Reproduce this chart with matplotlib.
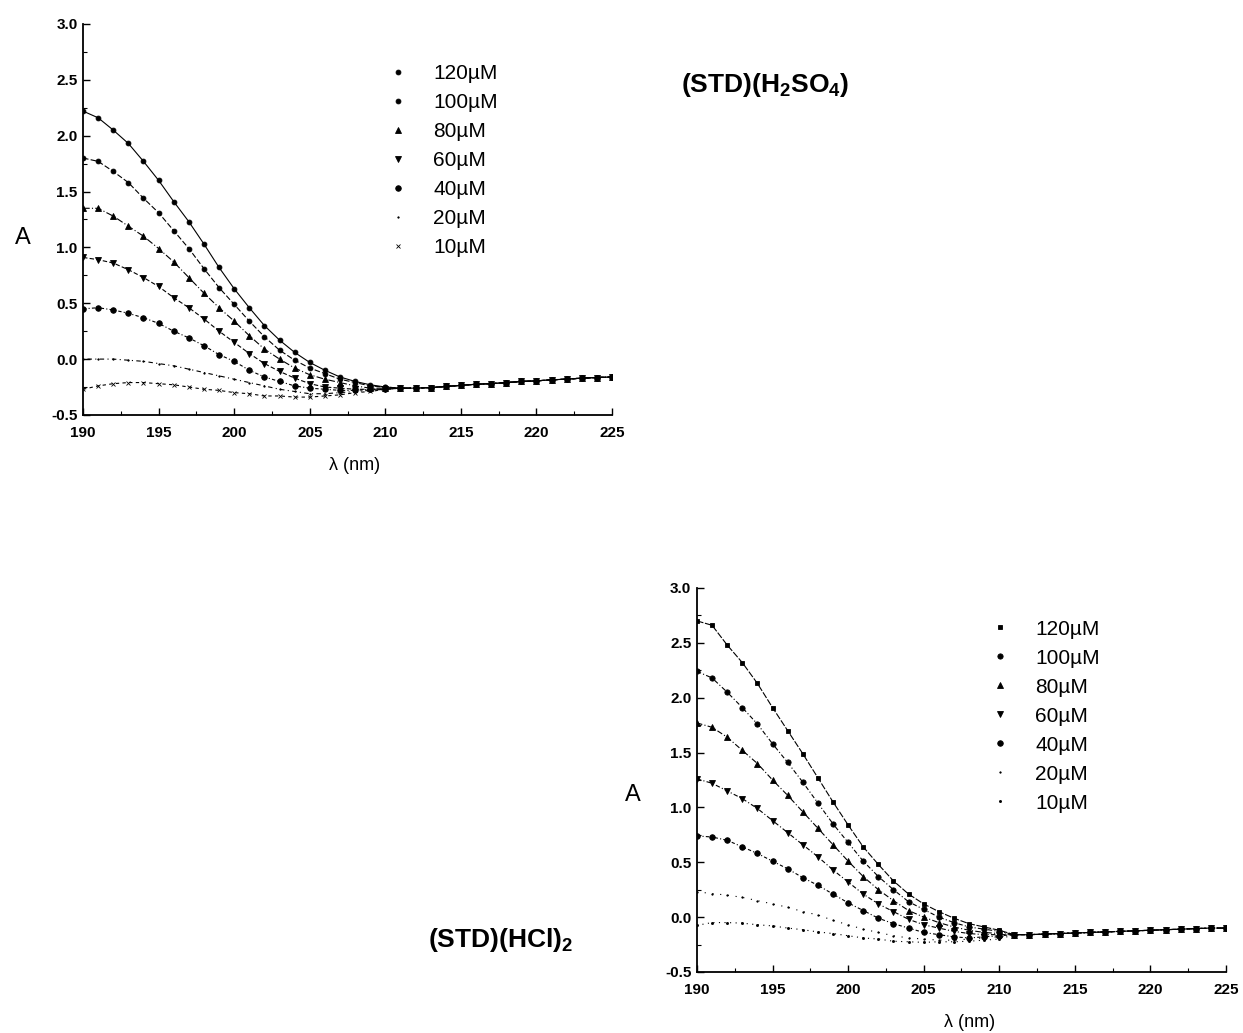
import numpy as np
import matplotlib
matplotlib.use("Agg")
import matplotlib.pyplot as plt

plt.rcParams['font.family'] = ['Liberation Sans', 'DejaVu Sans']
plt.rcParams['mathtext.fontset'] = 'custom'
plt.rcParams['mathtext.rm'] = 'Liberation Sans'
plt.rcParams['mathtext.bf'] = 'Liberation Sans:bold'

# wavelength grid, 1 nm steps
wl = np.arange(190, 226)
labels = ["120µM", "100µM", "80µM", "60µM", "40µM", "20µM", "10µM"]

# (STD)(H2SO4): 190-210 nm, then the shared tail 211-225 nm
h2so4_120 = [2.22, 2.16, 2.05, 1.93, 1.77, 1.60, 1.41, 1.23, 1.03, 0.82, 0.63, 0.46, 0.30, 0.17, 0.06, -0.03, -0.10, -0.16, -0.20, -0.23, -0.25]
h2so4_100 = [1.80, 1.77, 1.68, 1.58, 1.44, 1.31, 1.15, 0.99, 0.81, 0.64, 0.49, 0.34, 0.20, 0.08, -0.01, -0.08, -0.13, -0.18, -0.21, -0.24, -0.25]
h2so4_80 = [1.35, 1.35, 1.28, 1.19, 1.10, 0.99, 0.87, 0.73, 0.59, 0.46, 0.34, 0.21, 0.09, 0.00, -0.08, -0.14, -0.18, -0.21, -0.24, -0.26, -0.26]
h2so4_60 = [0.91, 0.89, 0.86, 0.80, 0.73, 0.65, 0.55, 0.46, 0.36, 0.25, 0.15, 0.05, -0.04, -0.11, -0.17, -0.22, -0.25, -0.26, -0.27, -0.27, -0.27]
h2so4_40 = [0.45, 0.46, 0.44, 0.41, 0.37, 0.32, 0.25, 0.19, 0.12, 0.04, -0.02, -0.10, -0.16, -0.20, -0.24, -0.26, -0.27, -0.28, -0.28, -0.27, -0.27]
h2so4_20 = [0.00, 0.00, 0.00, -0.01, -0.02, -0.04, -0.06, -0.09, -0.12, -0.15, -0.18, -0.21, -0.24, -0.27, -0.29, -0.31, -0.31, -0.30, -0.29, -0.28, -0.27]
h2so4_10 = [-0.27, -0.24, -0.22, -0.21, -0.21, -0.22, -0.23, -0.25, -0.27, -0.28, -0.30, -0.31, -0.33, -0.33, -0.34, -0.34, -0.33, -0.32, -0.30, -0.29, -0.27]
h2so4_tail = [-0.26, -0.26, -0.255, -0.245, -0.235, -0.225, -0.22, -0.21, -0.20, -0.195, -0.185, -0.18, -0.17, -0.165, -0.16]

# (STD)(HCl)2
hcl_120 = [2.70, 2.66, 2.48, 2.32, 2.13, 1.91, 1.70, 1.49, 1.27, 1.05, 0.84, 0.64, 0.48, 0.33, 0.21, 0.12, 0.05, -0.01, -0.06, -0.09, -0.12]
hcl_100 = [2.24, 2.18, 2.05, 1.91, 1.76, 1.58, 1.41, 1.23, 1.04, 0.85, 0.68, 0.51, 0.37, 0.25, 0.14, 0.07, 0.00, -0.05, -0.09, -0.11, -0.13]
hcl_80 = [1.77, 1.73, 1.64, 1.52, 1.40, 1.25, 1.11, 0.96, 0.81, 0.66, 0.51, 0.37, 0.25, 0.15, 0.06, 0.00, -0.05, -0.09, -0.12, -0.14, -0.15]
hcl_60 = [1.26, 1.22, 1.15, 1.08, 0.99, 0.88, 0.77, 0.66, 0.55, 0.43, 0.32, 0.21, 0.12, 0.05, -0.02, -0.07, -0.10, -0.13, -0.15, -0.16, -0.16]
hcl_40 = [0.74, 0.73, 0.70, 0.64, 0.58, 0.51, 0.44, 0.36, 0.29, 0.21, 0.13, 0.06, -0.01, -0.06, -0.10, -0.14, -0.16, -0.18, -0.19, -0.18, -0.17]
hcl_20 = [0.23, 0.215, 0.20, 0.18, 0.15, 0.12, 0.09, 0.05, 0.02, -0.03, -0.07, -0.11, -0.14, -0.17, -0.19, -0.20, -0.21, -0.21, -0.20, -0.19, -0.18]
hcl_10 = [-0.075, -0.05, -0.05, -0.055, -0.07, -0.08, -0.10, -0.115, -0.135, -0.15, -0.17, -0.19, -0.20, -0.22, -0.225, -0.23, -0.225, -0.225, -0.22, -0.21, -0.20]
hcl_tail = [-0.16, -0.16, -0.155, -0.15, -0.145, -0.14, -0.135, -0.13, -0.125, -0.12, -0.115, -0.11, -0.105, -0.10, -0.10]

top_series = [h2so4_120, h2so4_100, h2so4_80, h2so4_60, h2so4_40, h2so4_20, h2so4_10]
bot_series = [hcl_120, hcl_100, hcl_80, hcl_60, hcl_40, hcl_20, hcl_10]

top_styles = [
    ('o', 3.5, '-'),
    ('o', 3.5, (0, (5, 2))),
    ('^', 4.0, (0, (6, 2, 1, 2))),
    ('v', 4.0, (0, (4, 2))),
    ('o', 4.0, (0, (3, 2, 1, 2))),
    ('.', 2.0, (0, (1, 3, 4, 3))),
    ('x', 2.5, (0, (3, 3))),
]
bot_styles = [
    ('s', 3.5, (0, (6, 1.5))),
    ('o', 3.8, (0, (4, 2, 1, 2))),
    ('^', 4.0, (0, (5, 2, 1, 2))),
    ('v', 4.0, (0, (4, 2, 1, 2))),
    ('o', 4.0, (0, (3, 2, 1, 2))),
    ('.', 2.0, (0, (1, 6))),
    ('.', 3.0, (0, (1, 4))),
]

fig = plt.figure(figsize=(12.43, 10.33), dpi=100)
ax1 = fig.add_axes([0.0668, 0.5983, 0.4256, 0.3785])
ax2 = fig.add_axes([0.5607, 0.0591, 0.4256, 0.3717])


def draw(ax, series, tail, styles, leg_anchor):
    for vals, lab, (mk, ms, ls) in zip(series, labels, styles):
        ax.plot(wl, list(vals) + list(tail), color='black', lw=0.8, ls=ls,
                marker=mk, ms=ms, mec='black', mfc='black', mew=0.6, label=lab)
    ax.set_xlim(190, 225)
    ax.set_ylim(-0.5, 3.0)
    ax.set_xticks(range(190, 226, 5))
    ax.set_yticks(np.arange(-0.5, 3.01, 0.5))
    ax.set_yticklabels(["-0.5", "0.0", "0.5", "1.0", "1.5", "2.0", "2.5", "3.0"])
    ax.set_xticks(np.arange(190, 226, 2.5), minor=True)
    ax.set_yticks(np.arange(-0.5, 3.01, 0.25), minor=True)
    ax.tick_params(which='major', direction='in', length=5, width=1.0, labelsize=11)
    ax.tick_params(axis='x', which='major', pad=8)
    ax.tick_params(axis='y', which='major', pad=4)
    ax.tick_params(which='minor', direction='in', length=3, width=0.8)
    for t in ax.get_xticklabels() + ax.get_yticklabels():
        t.set_fontweight('bold')
    for side in ['top', 'right']:
        ax.spines[side].set_visible(False)
    for side in ['left', 'bottom']:
        ax.spines[side].set_linewidth(1.3)
    leg = ax.legend(loc='upper left', bbox_to_anchor=leg_anchor, frameon=False,
                    handlelength=0.8, handletextpad=1.3, labelspacing=0.48,
                    fontsize=15, borderaxespad=0)
    for h in leg.legend_handles:
        h.set_linestyle('None')


draw(ax1, top_series, h2so4_tail, top_styles, (0.564, 0.919))
draw(ax2, bot_series, hcl_tail, bot_styles, (0.541, 0.939))

fig.text(0.012, 0.7696, "A", fontsize=17, ha='left', va='center')
fig.text(0.5093, 0.2304, "A", fontsize=17, ha='center', va='center')
fig.text(0.2856, 0.5489, "λ (nm)", fontsize=13, ha='center', va='center')
fig.text(0.7804, 0.0100, "λ (nm)", fontsize=13, ha='center', va='center')
fig.text(0.6155, 0.9177, r"(STD)(H$_\mathbf{2}$SO$_\mathbf{4}$)", fontsize=19,
         fontweight='bold', ha='center', va='center')
fig.text(0.4023, 0.090, r"(STD)(HCl)$_\mathbf{2}$", fontsize=19,
         fontweight='bold', ha='center', va='center')

fig.savefig("out.png", dpi=100)
